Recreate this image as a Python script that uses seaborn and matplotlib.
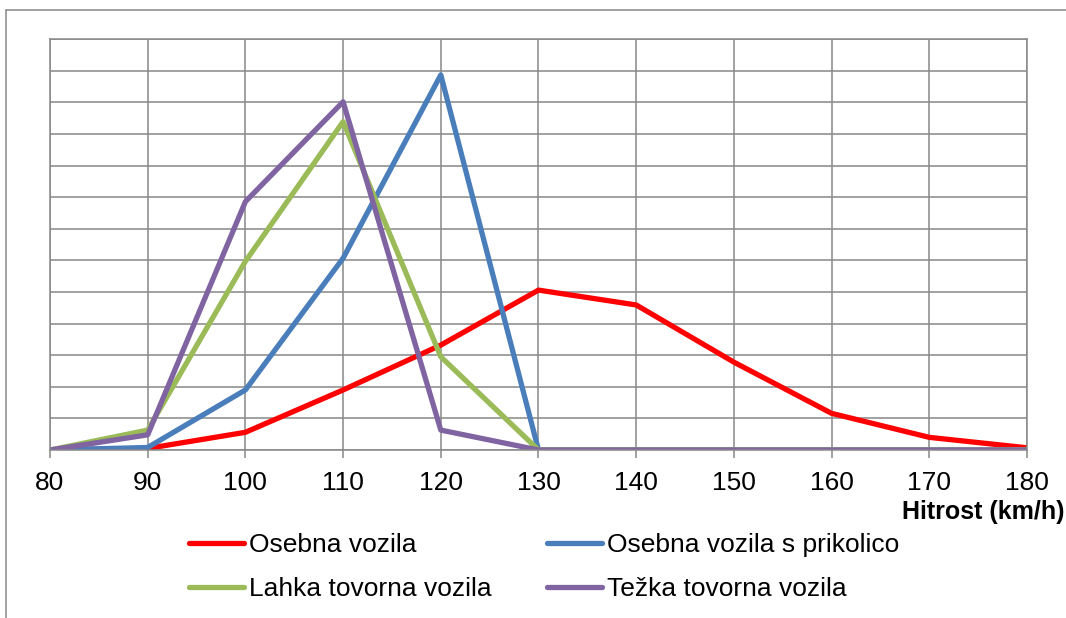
import numpy as np
import pandas as pd
import matplotlib.pyplot as plt
import seaborn as sns
from matplotlib.lines import Line2D

# hitrost (km/h) na x osi
speeds = [80, 90, 100, 110, 120, 130, 140, 150, 160, 170, 180]

osebna = [0.0, 0.05, 0.56, 1.9, 3.32, 5.06, 4.59, 2.78, 1.16, 0.4, 0.07]
osebna_prikolica = [0.0, 0.08, 1.9, 6.07, 11.87, 0.0, 0.0, 0.0, 0.0, 0.0, 0.0]
lahka_tovorna = [0.0, 0.63, 5.97, 10.39, 2.95, 0.0, 0.0, 0.0, 0.0, 0.0, 0.0]
tezka_tovorna = [0.0, 0.48, 7.86, 11.02, 0.63, 0.0, 0.0, 0.0, 0.0, 0.0, 0.0]

series_names = [
    "Osebna vozila",
    "Osebna vozila s prikolico",
    "Lahka tovorna vozila",
    "Težka tovorna vozila",
]
series_values = [osebna, osebna_prikolica, lahka_tovorna, tezka_tovorna]
series_colors = ["#FF0000", "#4A7EBB", "#9BBB59", "#8064A2"]

GRID = "#888888"

df = pd.concat(
    [pd.DataFrame({"hitrost": speeds, "delez": vals, "vrsta": name})
     for name, vals in zip(series_names, series_values)],
    ignore_index=True,
)

sns.set_theme(style="white")
plt.rcParams["font.family"] = ["Liberation Sans", "DejaVu Sans"]
plt.rcParams["text.color"] = "black"
plt.rcParams["axes.labelcolor"] = "black"

fig = plt.figure(figsize=(10.66, 6.18), dpi=100)
ax = fig.add_axes([50 / 1066, 1 - 450 / 618, 977 / 1066, 410.8 / 618])

sns.lineplot(
    data=df, x="hitrost", y="delez", hue="vrsta",
    hue_order=series_names, palette=series_colors,
    linewidth=3.8, ax=ax, legend=True,
)

ax.set_xlim(80, 180)
ax.set_ylim(0, 13)
ax.set_xticks(speeds)
ax.set_yticks(np.arange(0, 14, 1))
ax.set_yticklabels([])
ax.grid(True, color=GRID, linewidth=1.1)
ax.set_axisbelow(True)
for sp in ax.spines.values():
    sp.set_color(GRID)
    sp.set_linewidth(1.1)
ax.tick_params(axis="x", length=5.8, width=1.1, color=GRID, pad=9.5,
               labelsize=19, labelcolor="black", bottom=True)
ax.tick_params(axis="y", length=0)
ax.set_ylabel("")
ax.set_xlabel("Hitrost (km/h)", fontsize=18, fontweight="bold", loc="right",
              color="black")
ax.xaxis.set_label_coords((1064 - 50) / 977, (450 - 500) / 410.8)

handles, labels = ax.get_legend_handles_labels()
ax.get_legend().remove()
order = [0, 2, 1, 3]
fig.legend(
    [handles[i] for i in order], [labels[i] for i in order],
    ncol=2, loc="upper left", bbox_to_anchor=(189 / 1066, 1 - 533 / 618),
    frameon=False, fontsize=19, handlelength=2.08, handletextpad=0.19,
    columnspacing=2.12, labelspacing=0.75, borderpad=0, borderaxespad=0,
    labelcolor="black",
)

# zunanji okvir grafikona
fig.add_artist(Line2D([6 / 1066, 1.0], [1 - 10 / 618] * 2, color=GRID, linewidth=1.1))
fig.add_artist(Line2D([6 / 1066] * 2, [0.0, 1 - 10 / 618], color=GRID, linewidth=1.1))

fig.savefig("out.png", dpi=100)
plt.close(fig)
